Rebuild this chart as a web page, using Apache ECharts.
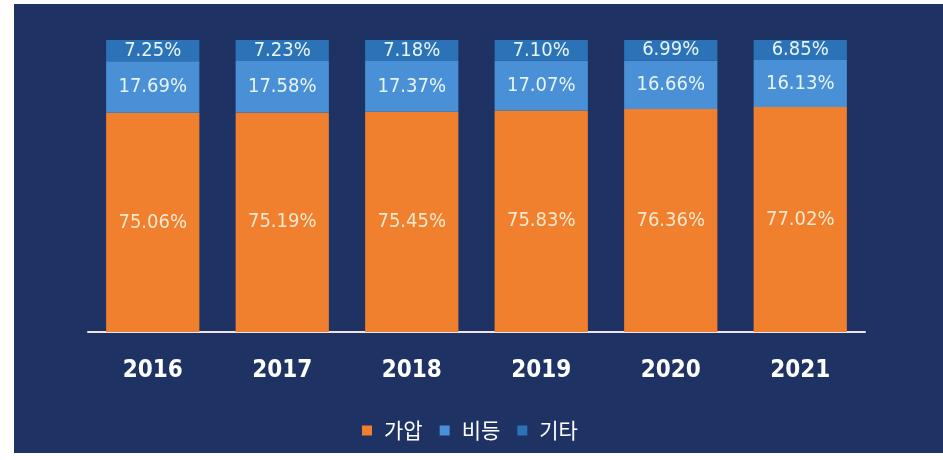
<!DOCTYPE html>
<html><head><meta charset="utf-8">
<script src="https://cdn.jsdelivr.net/npm/echarts@6/dist/echarts.min.js"></script>
<style>
html,body{margin:0;padding:0;background:#ffffff;width:943px;height:460px;overflow:hidden;}
#c{position:absolute;left:14px;top:4px;width:929px;height:449px;}
</style></head>
<body><div id="c"></div>
<script>
const years = ['2016','2017','2018','2019','2020','2021'];
const gaap = [75.06, 75.19, 75.45, 75.83, 76.36, 77.02];
const bideung = [17.69, 17.58, 17.37, 17.07, 16.66, 16.13];
const gita = [7.25, 7.23, 7.18, 7.10, 6.99, 6.85];
const seriesNames = ['가압', '비등', '기타'];
const colors = ['#f07f2e', '#4a90d6', '#2c72b6'];
const labelColors = ['#f6e8cc', '#e6f4f6', '#e6f4f6'];

const FONT = '"Liberation Sans Narrow","DejaVu Sans Condensed",sans-serif';
const chart = echarts.init(document.getElementById('c'));
function mk(i, data) {
  return { name: seriesNames[i], type: 'bar', stack: 'a', data, barWidth: '72%',
    itemStyle: { color: colors[i] },
    label: { show: true, position: 'inside', color: labelColors[i], fontFamily: FONT,
      fontSize: 20, fontWeight: 'normal', formatter: p => p.value.toFixed(2) + '%' },
    emphasis: { disabled: true } };
}
chart.setOption({
  backgroundColor: '#1f3264',
  animation: false,
  grid: { left: 74, right: 78, top: 36, bottom: 121 },
  xAxis: {
    type: 'category', data: years,
    axisLine: { lineStyle: { color: '#f0e4e6', width: 2 } },
    axisTick: { show: false },
    axisLabel: { color: '#ffffff', fontSize: 24, fontWeight: 'bold', margin: 27, fontFamily: FONT }
  },
  yAxis: { type: 'value', min: 0, max: 100, show: false, splitLine: { show: false } },
  legend: {
    data: seriesNames, top: 411, left: 343,
    itemWidth: 10, itemHeight: 10, itemGap: 17, icon: 'rect',
    textStyle: { color: '#ffffff', fontSize: 21, padding: [0, 0, 0, 7],
      fontFamily: '"Noto Sans CJK KR",sans-serif' }
  },
  series: [ mk(0, gaap), mk(1, bideung), mk(2, gita) ]
});
</script></body></html>
